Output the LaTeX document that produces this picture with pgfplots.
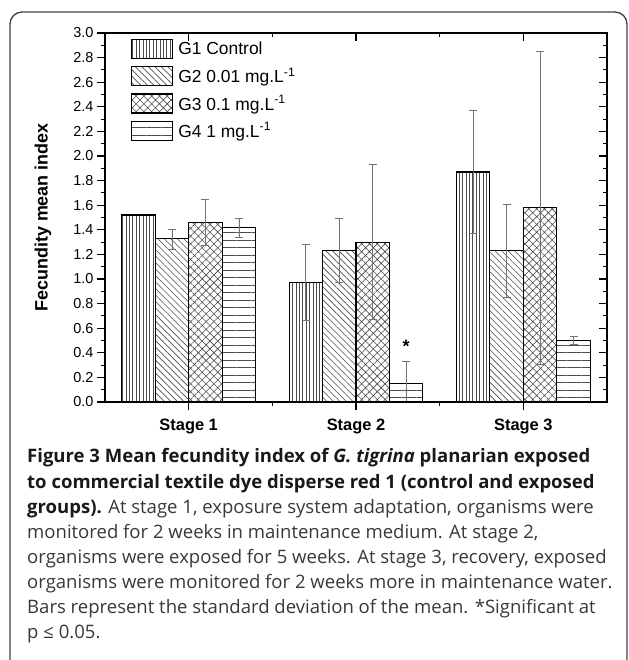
\documentclass[border=0pt]{standalone}
\usepackage{fontspec}
\setmainfont{Liberation Sans}
\newfontfamily\capfont{Open Sans}
\usepackage{pgfplots}
\usepackage{pgfplotstable}
\pgfplotsset{compat=1.18}
\usetikzlibrary{patterns.meta}

% x = position of the bar (groups centred at 1, 3, 5)
\pgfplotstableread{
x y ep em
2.4 0.97 0.31 0.31
4.4 1.87 0.50 0.50
}\gone
\pgfplotstableread{
x y
0.4 1.52
}\goneA
\pgfplotstableread{
x y ep em
0.8 1.33 0.07 0.085
2.8 1.23 0.26 0.26
4.8 1.23 0.38 0.38
}\gtwo
\pgfplotstableread{
x y ep em
1.2 1.46 0.19 0.19
3.2 1.30 0.63 0.63
5.2 1.58 1.27 1.27
}\gthree
\pgfplotstableread{
x y ep em
1.6 1.42 0.075 0.08
3.6 0.15 0.18 0.15
5.6 0.50 0.03 0.03
}\gfour

\pgfplotsset{
  mybar/.style={ybar, bar width=0.4, bar shift=0, draw=black, line width=1.1bp,
    pattern color=black!70,
    legend image code/.code={\draw[##1] (0bp,-9.5bp) rectangle (41bp,9.5bp);}},
  myerr/.style={error bars/.cd, y dir=both, y explicit,
    error bar style={line width=0.7bp, black!55, solid},
    error mark options={rotate=90, mark size=4bp, line width=0.7bp, black!55}},
}

\begin{document}
\begin{tikzpicture}[x=1bp,y=1bp]
\useasboundingbox (0,0) rectangle (629,660);
\draw[line width=1.3bp, black!75, rounded corners=12bp] (10,-20) -- (10,648) -- (627,648) -- (627,-20);

\begin{axis}[
  at={(105bp,258bp)}, anchor=south west,
  width=502bp, height=369bp, scale only axis,
  xmin=0, xmax=6, ymin=0, ymax=3,
  xtick={1,3,5}, xticklabels={Stage 1,Stage 2,Stage 3},
  minor xtick={2,4},
  ytick={0,0.2,0.4,0.6,0.8,1.0,1.2,1.4,1.6,1.8,2.0,2.2,2.4,2.6,2.8,3.0},
  minor ytick={0.1,0.3,0.5,0.7,0.9,1.1,1.3,1.5,1.7,1.9,2.1,2.3,2.5,2.7,2.9},
  tick align=outside, xtick pos=left, ytick pos=left,
  major tick length=8bp, minor tick length=4bp,
  axis line style={line width=1.2bp},
  tick style={line width=1.1bp, black},
  yticklabel style={font=\fontsize{14.5}{14.5}\selectfont,
    /pgf/number format/.cd, fixed, fixed zerofill, precision=1, assume math mode=true},
  xticklabel style={font=\bfseries\fontsize{16.5}{16.5}\selectfont, yshift=-6bp},
  ylabel={Fecundity mean index},
  every axis y label/.style={at={(axis description cs:-0.1235,0.5)}, rotate=90, anchor=center,
    font=\bfseries\fontsize{18}{18}\selectfont},
  legend style={at={(axis description cs:0.0518,0.9837)}, anchor=north west,
    draw=none, fill=none, inner sep=0pt, row sep=7bp, column sep=5bp,
    font=\fontsize{17.5}{17.5}\selectfont, nodes={inner sep=0pt}},
  legend cell align=left,
]
\addplot[mybar, pattern={Lines[angle=90,distance=3.4bp,line width=0.6bp]}]
  table[x=x,y=y] {\goneA};
\addlegendentry{G1 Control}
\addplot[mybar, pattern={Lines[angle=90,distance=3.4bp,line width=0.6bp]}, forget plot, myerr]
  table[x=x,y=y,y error plus=ep,y error minus=em] {\gone};
\addplot[mybar, pattern={Lines[angle=-45,distance=4.6bp,line width=0.6bp]}, myerr]
  table[x=x,y=y,y error plus=ep,y error minus=em] {\gtwo};
\addlegendentry{G2 0.01 mg.L\textsuperscript{-1}}
\addplot[mybar, pattern={Hatch[angle=45,distance=5.5bp,line width=0.6bp]}, myerr]
  table[x=x,y=y,y error plus=ep,y error minus=em] {\gthree};
\addlegendentry{G3 0.1 mg.L\textsuperscript{-1}}
\addplot[mybar, pattern={Lines[angle=0,distance=7.5bp,line width=0.6bp]}, myerr]
  table[x=x,y=y,y error plus=ep,y error minus=em] {\gfour};
\addlegendentry{G4 1 mg.L\textsuperscript{-1}}
\node[anchor=base, inner sep=0pt, font=\bfseries\fontsize{18}{18}\selectfont] at (axis cs:3.6,0.40) {*};
\end{axis}

\begin{axis}[
  at={(105bp,258bp)}, anchor=south west,
  width=502bp, height=369bp, scale only axis,
  xmin=0, xmax=6, ymin=0, ymax=3,
  xtick={1,3,5}, minor xtick={2,4},
  ytick={0,0.2,0.4,0.6,0.8,1.0,1.2,1.4,1.6,1.8,2.0,2.2,2.4,2.6,2.8,3.0},
  minor ytick={0.1,0.3,0.5,0.7,0.9,1.1,1.3,1.5,1.7,1.9,2.1,2.3,2.5,2.7,2.9},
  xticklabels={}, yticklabels={},
  tick align=inside, xtick pos=right, ytick pos=right,
  major tick length=8bp, minor tick length=4bp,
  axis line style={line width=1.2bp},
  tick style={line width=1.1bp, black},
]
\addplot[draw=none] coordinates {(0,0)};
\end{axis}

\begin{scope}[every node/.style={anchor=base west, inner sep=0pt}]
\node[font=\capfont\bfseries\fontsize{18.6}{20}\selectfont, text=black!90] at (27,197)
  {Figure 3 Mean fecundity index of \textit{G. tigrina} planarian exposed};
\node[font=\capfont\bfseries\fontsize{18.6}{20}\selectfont, text=black!90] at (27,171.9)
  {to commercial textile dye disperse red 1 (control and exposed};
\node[font=\capfont\fontsize{18.6}{20}\selectfont, text=black!78] at (27,146.8)
  {{\bfseries\color{black!90}groups).} At stage 1, exposure system adaptation, organisms were};
\node[font=\capfont\fontsize{18.6}{20}\selectfont, text=black!78] at (27,121.7)
  {monitored for 2 weeks in maintenance medium. At stage 2,};
\node[font=\capfont\fontsize{18.6}{20}\selectfont, text=black!78] at (27,96.6)
  {organisms were exposed for 5 weeks. At stage 3, recovery, exposed};
\node[font=\capfont\fontsize{18.6}{20}\selectfont, text=black!78] at (27,71.5)
  {organisms were monitored for 2 weeks more in maintenance water.};
\node[font=\capfont\fontsize{18.6}{20}\selectfont, text=black!78] at (27,46.4)
  {Bars represent the standard deviation of the mean. *Significant at};
\node[font=\capfont\fontsize{18.6}{20}\selectfont, text=black!78] at (27,21.3)
  {p ≤ 0.05.};
\end{scope}
\end{tikzpicture}
\end{document}
